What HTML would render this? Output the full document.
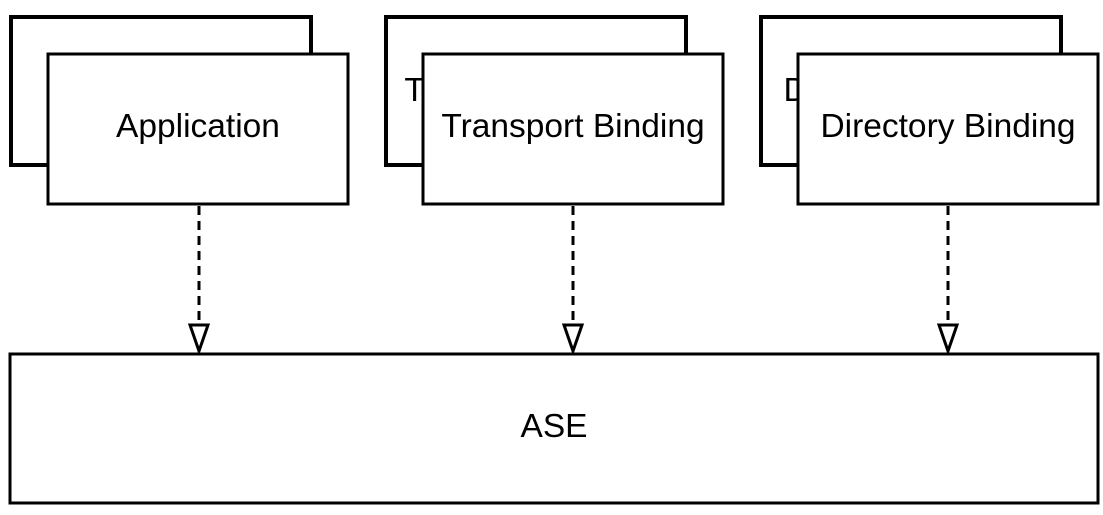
<!DOCTYPE html>
<html><head><meta charset="utf-8"><style>body{margin:0;background:#fff}</style></head>
<body>
<svg width="1103" height="510" xmlns="http://www.w3.org/2000/svg" font-family="Liberation Sans, sans-serif" font-size="33.5">
<g fill="#fff" stroke="#000">
<rect x="11" y="17" width="300" height="148" stroke-width="4"/>
<rect x="48" y="54" width="300" height="150" stroke-width="3"/>
<rect x="386" y="17" width="300" height="148" stroke-width="4"/>
<text x="536" y="101" text-anchor="middle" stroke="none" fill="#000">Transport Binding</text>
<rect x="423" y="54" width="300" height="150" stroke-width="3"/>
<rect x="761" y="17" width="300" height="148" stroke-width="4"/>
<text x="911" y="101" text-anchor="middle" stroke="none" fill="#000">Directory Binding</text>
<rect x="798" y="54" width="300" height="150" stroke-width="3"/>
<rect x="10" y="354" width="1088" height="149" stroke-width="3"/>
</g>
<g fill="#000" text-anchor="middle">
<text x="198" y="137">Application</text>
<text x="573" y="137">Transport Binding</text>
<text x="948" y="137">Directory Binding</text>
<text x="554" y="437">ASE</text>
</g>
<g stroke="#000" stroke-width="3" fill="#fff">
<line x1="199" y1="206" x2="199" y2="324" stroke-dasharray="9,6"/>
<polygon points="190,325 208,325 199,351"/>
<line x1="573" y1="206" x2="573" y2="324" stroke-dasharray="9,6"/>
<polygon points="564,325 582,325 573,351"/>
<line x1="948" y1="206" x2="948" y2="324" stroke-dasharray="9,6"/>
<polygon points="939,325 957,325 948,351"/>
</g>
</svg>
</body></html>
